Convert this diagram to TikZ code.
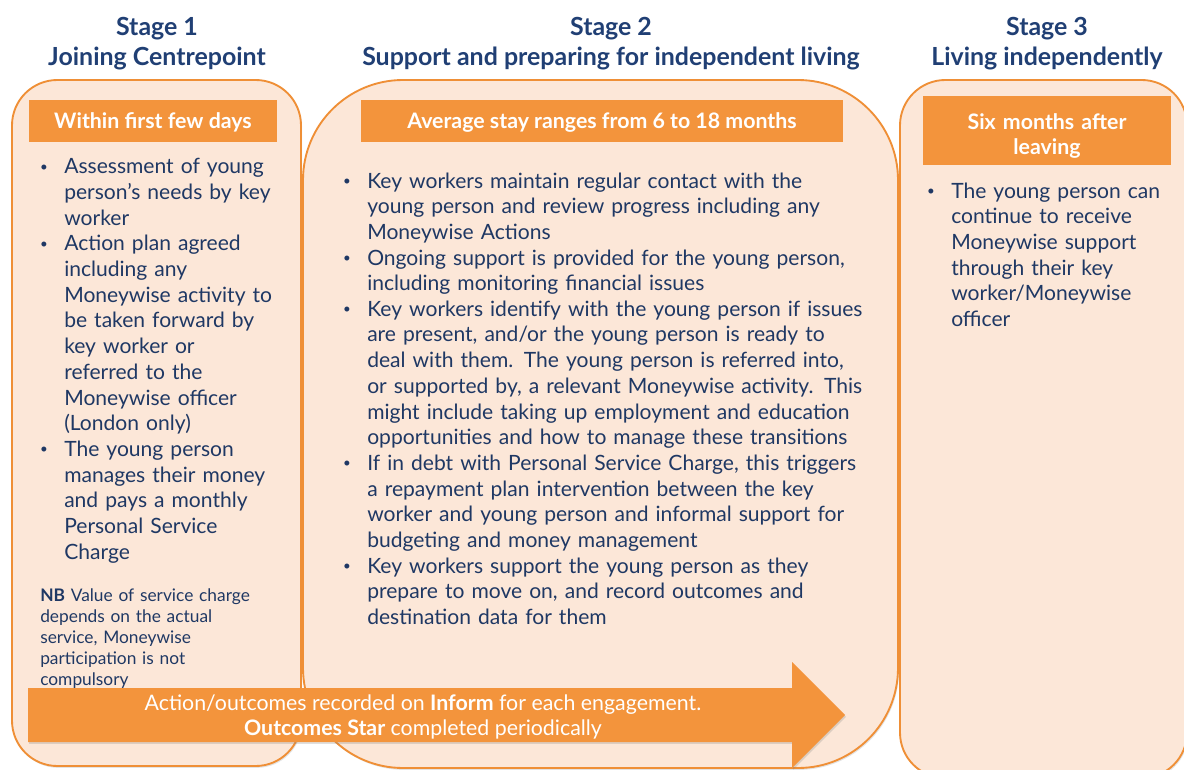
\documentclass[tikz,border=0pt]{standalone}
\usepackage{fontspec}
\setmainfont{Lato}
\usetikzlibrary{positioning}
\usetikzlibrary{shadows}

\definecolor{cpnavy}{HTML}{1F3864}
\definecolor{cptitle}{HTML}{203F74}
\definecolor{cporange}{HTML}{F3943C}
\definecolor{cpline}{HTML}{EF8F36}
\definecolor{cppeach}{HTML}{FCE7D8}

% bullet with hanging indent, lines broken by hand
\newcommand{\bpoint}[1]{\noindent\hangindent=18.75pt\hangafter=1%
    \makebox[18.75pt][l]{\hspace{0.6pt}\raisebox{0.25ex}{\fontsize{10}{12}\selectfont\textbullet}}#1\par}

\tikzset{
    panel/.style = {draw=cpline, line width=1.4pt, fill=cppeach,
        drop shadow={opacity=0.22, shadow xshift=0.8pt, shadow yshift=-1.4pt}},
    stagetitle/.style = {text=cptitle, font=\fontsize{18.7}{22.5}\selectfont\bfseries,
        align=center, inner sep=0pt},
    header/.style = {fill=cporange, text=white, font=\fontsize{16}{18.75}\selectfont\bfseries,
        align=center, inner sep=0pt},
    body/.style = {text=cpnavy, font=\fontsize{15.8}{19.25}\selectfont, align=left,
        anchor=base west, inner sep=0pt},
    note/.style = {text=cpnavy, font=\fontsize{13}{15.9}\selectfont, align=left,
        anchor=base west, inner sep=0pt},
    flow/.style = {fill=cporange,
        drop shadow={opacity=0.25, shadow xshift=0.8pt, shadow yshift=-1.4pt}},
    flowtext/.style = {text=white, font=\fontsize{16}{18.75}\selectfont,
        align=center, inner sep=0pt}
}

\begin{document}
\begin{tikzpicture}[x=0.75pt, y=-0.75pt]
    \useasboundingbox (0,0) rectangle (1184,770);

    % stage panels
    \draw [panel, rounded corners=34pt] (12,80) rectangle (301,766);
    \draw [panel, rounded corners=75pt] (303,80) rectangle (898,768);
    \draw [panel, rounded corners=34pt] (900,80) rectangle (1187,778);

    % stage titles
    \node [stagetitle] (stage1) at (157,44) {Stage 1\\Joining Centrepoint};
    \node [stagetitle] (stage2) at (611,44) {Stage 2\\Support and preparing for independent living};
    \node [stagetitle] (stage3) at (1047,44) {Stage 3\\Living independently};

    % timing headers
    \node [header, minimum width=186pt, minimum height=31.5pt, text depth=0pt] (when1) at (153,121) {Within first few days};
    \node [header, minimum width=361.5pt, minimum height=31.5pt, text depth=0pt] (when2) at (602,121) {Average stay ranges from 6 to 18 months};
    \node [header, minimum width=186pt, minimum height=51.75pt, text width=186pt, text height=19.5pt] (when3) at (1047,130.5) {Six months after\\leaving};

    % stage 1
    \node [body, text width=200pt] (list1) at (39,174) {%
        \bpoint{Assessment of young\newline person’s needs by key\newline worker}%
        \bpoint{Action plan agreed\newline including any\newline Moneywise activity to\newline be taken forward by\newline key worker or\newline referred to the\newline Moneywise officer\newline (London only)}%
        \bpoint{The young person\newline manages their money\newline and pays a monthly\newline Personal Service\newline Charge}};
    \node [note, text width=200pt] (nb) at (40,601) {%
        \textbf{NB} Value of service charge\newline depends on the actual\newline service, Moneywise\newline participation is not\newline compulsory};

    % stage 2
    \node [body, text width=430pt] (list2) at (342,188) {%
        \bpoint{Key workers maintain regular contact with the\newline young person and review progress including any\newline Moneywise Actions}%
        \bpoint{Ongoing support is provided for the young person,\newline including monitoring financial issues}%
        \bpoint{Key workers identify with the young person if issues\newline are present, and/or the young person is ready to\newline deal with them. The young person is referred into,\newline or supported by, a relevant Moneywise activity. This\newline might include taking up employment and education\newline opportunities and how to manage these transitions}%
        \bpoint{If in debt with Personal Service Charge, this triggers\newline a repayment plan intervention between the key\newline worker and young person and informal support for\newline budgeting and money management}%
        \bpoint{Key workers support the young person as they\newline prepare to move on, and record outcomes and\newline destination data for them}};

    % stage 3
    \node [body, text width=200pt] (list3) at (926,198) {%
        \bpoint{The young person can\newline continue to receive\newline Moneywise support\newline through their key\newline worker/Moneywise\newline officer}};

    % recording arrow across stages 1 and 2
    \fill [flow] (28,688) -- (792,688) -- (792,662) -- (845,715) -- (792,768)
        -- (792,742) -- (28,742) -- cycle;
    \node [flowtext] (record) at (423,717) {Action/outcomes recorded on \textbf{Inform} for each engagement.\\
        \textbf{Outcomes Star} completed periodically};
\end{tikzpicture}
\end{document}
